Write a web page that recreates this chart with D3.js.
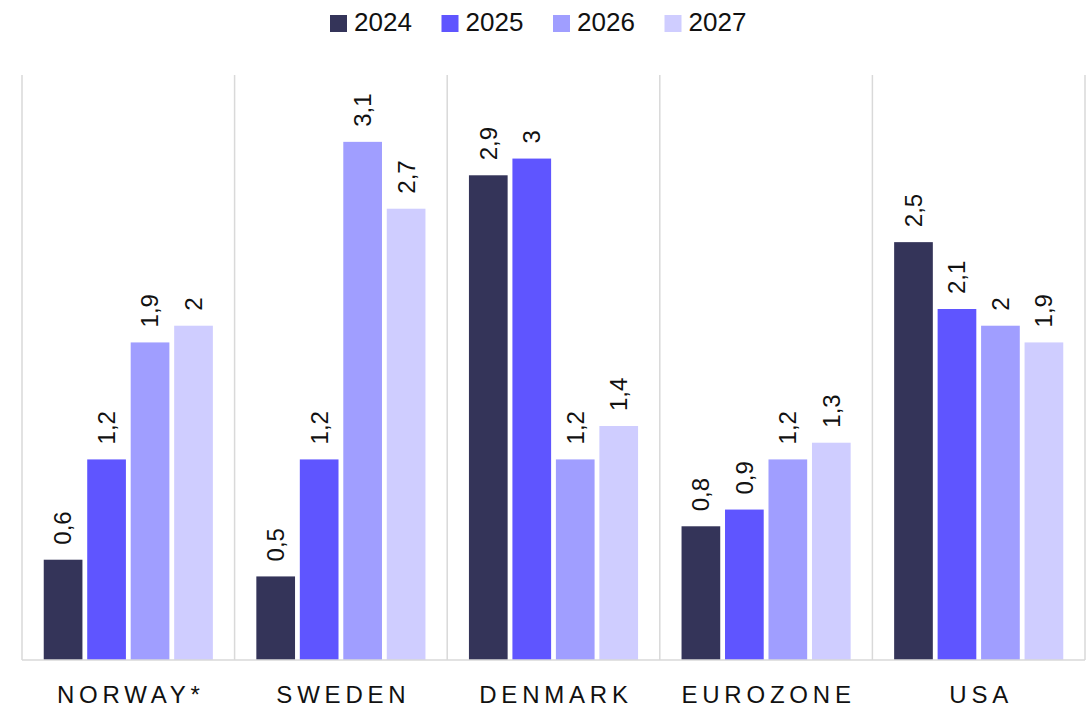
<!DOCTYPE html>
<html lang="en">
<head>
    <meta charset="UTF-8">
    <title>Growth forecast</title>
    <script src="https://d3js.org/d3.v7.min.js"></script>
    <style>
        body { margin: 0; background: #fff; font-family: "Liberation Sans", Arial, sans-serif; }
        svg text { fill: #111; }
    </style>
</head>
<body>
    <div id="chart"></div>
    <script>
        // Data
        var categories = ["NORWAY*", "SWEDEN", "DENMARK", "EUROZONE", "USA"];
        var years = ["2024", "2025", "2026", "2027"];
        var v2024 = [0.6, 0.5, 2.9, 0.8, 2.5];
        var v2025 = [1.2, 1.2, 3.0, 0.9, 2.1];
        var v2026 = [1.9, 3.1, 1.2, 1.2, 2.0];
        var v2027 = [2.0, 2.7, 1.4, 1.3, 1.9];
        var series = [v2024, v2025, v2026, v2027];
        var colors = ["#343459", "#5f55ff", "#a09eff", "#cfcdff"];

        var width = 1089, height = 708;
        var margin = {top: 75, right: 4, bottom: 48, left: 22};

        var svg = d3.select("#chart").append("svg")
            .attr("width", width).attr("height", height);

        var x0 = d3.scaleBand().domain(categories)
            .range([margin.left, width - margin.right]).padding(0);
        var x1 = d3.scaleBand().domain(years)
            .range([0, x0.bandwidth()]).paddingInner(0.11).paddingOuter(0.5);
        var y = d3.scaleLinear().domain([0, 3.5]).range([height - margin.bottom, margin.top]);

        // separators
        var edges = categories.map(function(c) { return x0(c); }).concat([x0.range()[1]]);
        svg.selectAll("line.sep").data(edges).enter().append("line")
            .attr("class", "sep")
            .attr("x1", function(d) { return d; }).attr("x2", function(d) { return d; })
            .attr("y1", y(3.5)).attr("y2", y(0))
            .attr("stroke", "#d9d9d9").attr("stroke-width", 1.5);

        var groups = svg.selectAll("g.grp").data(categories).enter().append("g")
            .attr("class", "grp")
            .attr("transform", function(d) { return "translate(" + x0(d) + ",0)"; });

        groups.each(function(cat, ci) {
            var g = d3.select(this);
            years.forEach(function(yr, si) {
                var v = series[si][ci];
                g.append("rect")
                    .attr("x", x1(yr)).attr("width", x1.bandwidth())
                    .attr("y", y(v)).attr("height", y(0) - y(v))
                    .attr("fill", colors[si]);
                var cx = x1(yr) + x1.bandwidth() / 2;
                g.append("text")
                    .attr("transform", "translate(" + cx + "," + (y(v) - 15) + ") rotate(-90)")
                    .attr("dy", "0.35em")
                    .attr("text-anchor", "start")
                    .style("font-size", "24px")
                    .text(String(v).replace(".", ","));
            });
        });

        // baseline
        svg.append("line")
            .attr("x1", x0.range()[0]).attr("x2", x0.range()[1])
            .attr("y1", y(0)).attr("y2", y(0))
            .attr("stroke", "#d9d9d9").attr("stroke-width", 1.5);

        // category labels
        svg.selectAll("text.cat").data(categories).enter().append("text")
            .attr("class", "cat")
            .attr("x", function(d) { return x0(d) + x0.bandwidth() / 2 + 2.5; })
            .attr("y", 703)
            .attr("text-anchor", "middle")
            .style("font-size", "24px")
            .style("letter-spacing", "4.8px")
            .text(function(d) { return d; });

        // legend
        var legend = svg.append("g").attr("transform", "translate(330,0)");
        var item = legend.selectAll("g").data(years).enter().append("g")
            .attr("transform", function(d, i) { return "translate(" + (i * 111.5) + ",0)"; });
        item.append("rect").attr("x", 0).attr("y", 15).attr("width", 17).attr("height", 17)
            .attr("fill", function(d, i) { return colors[i]; });
        item.append("text").attr("x", 24).attr("y", 31)
            .style("font-size", "26px")
            .text(function(d) { return d; });
    </script>
</body>
</html>
